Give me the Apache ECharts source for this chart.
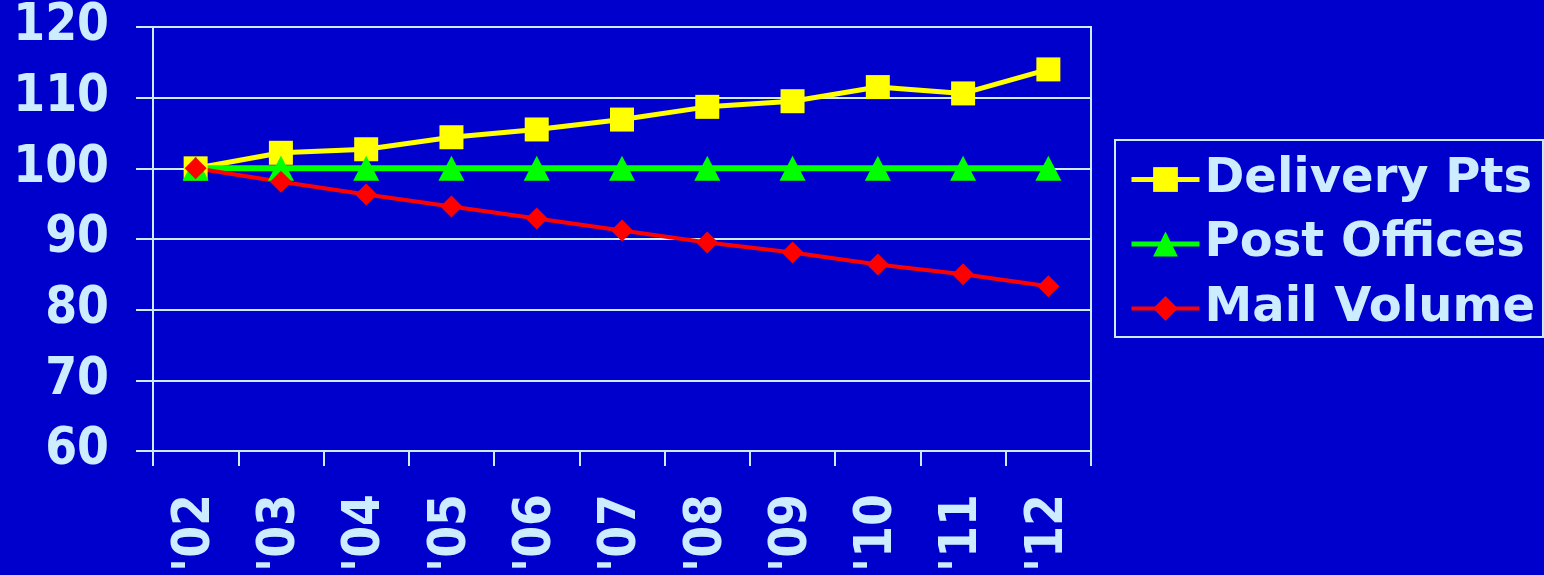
<!DOCTYPE html>
<html>
<head>
<meta charset="utf-8">
<script src="https://cdn.jsdelivr.net/npm/echarts@6/dist/echarts.min.js"></script>
<style>
html,body{margin:0;padding:0;background:#0000CC;}
#main{width:1544px;height:575px;}
</style>
</head>
<body>
<div id="main"></div>
<script>
var categories = ["'02","'03","'04","'05","'06","'07","'08","'09","'10","'11","'12"];
var deliveryPts = [100, 102.2, 102.7, 104.4, 105.5, 106.9, 108.7, 109.5, 111.5, 110.6, 114.0];
var postOffices = [100, 100, 100, 100, 100, 100, 100, 100, 100, 100, 100];
var mailVolume = [100, 98.1, 96.3, 94.6, 92.9, 91.2, 89.5, 88.1, 86.4, 85.0, 83.3];
var yTicks = [60, 70, 80, 90, 100, 110, 120];

var textColor = '#CCECFF';
var font = 'DejaVu Sans';
var axisFont = 'DejaVu Sans Condensed, DejaVu Sans';
var chart = echarts.init(document.getElementById('main'));
chart.setOption({
  backgroundColor: '#0000CC',
  animation: false,
  grid: {left: 153, right: 453, top: 27, bottom: 124, show: true, borderColor: textColor, borderWidth: 2, containLabel: false},
  legend: {
    orient: 'vertical', left: 1115, top: 140,
    padding: [14, 8, 3, 14],
    borderColor: textColor, borderWidth: 2,
    itemWidth: 68, itemHeight: 31, itemGap: 13.5,
    textStyle: {color: textColor, fontSize: 48, fontWeight: 'bold', fontFamily: font, lineHeight: 51},
    data: [
      {name: 'Delivery Pts', lineStyle: {width: 5}},
      {name: 'Post Offices', lineStyle: {width: 5}},
      {name: 'Mail Volume', lineStyle: {width: 4}}
    ]
  },
  xAxis: {
    type: 'category', data: categories, boundaryGap: true,
    axisLine: {lineStyle: {color: textColor, width: 2}},
    axisTick: {show: true, length: 15, lineStyle: {color: textColor, width: 2}},
    axisLabel: {rotate: 90, margin: 43, color: textColor, fontSize: 51, fontWeight: 'bold', fontFamily: axisFont},
    splitLine: {show: false}
  },
  yAxis: {
    type: 'value', min: yTicks[0], max: yTicks[yTicks.length-1], interval: 10,
    axisLine: {show: true, lineStyle: {color: textColor, width: 2}},
    axisTick: {show: true, length: 17, lineStyle: {color: textColor, width: 2}},
    axisLabel: {margin: 44, color: textColor, fontSize: 51, fontWeight: 'bold', fontFamily: axisFont},
    splitLine: {show: true, lineStyle: {color: textColor, width: 2}}
  },
  series: [
    {name: 'Delivery Pts', type: 'line', data: deliveryPts, symbol: 'rect', symbolSize: 24,
     itemStyle: {color: '#FFFF00'}, lineStyle: {color: '#FFFF00', width: 5}},
    {name: 'Post Offices', type: 'line', data: postOffices, symbol: 'triangle', symbolSize: [26, 25],
     itemStyle: {color: '#00FF00'}, lineStyle: {color: '#00FF00', width: 6}},
    {name: 'Mail Volume', type: 'line', data: mailVolume, symbol: 'diamond', symbolSize: 22,
     itemStyle: {color: '#FF0000'}, lineStyle: {color: '#FF0000', width: 4}}
  ]
});
</script>
</body>
</html>
